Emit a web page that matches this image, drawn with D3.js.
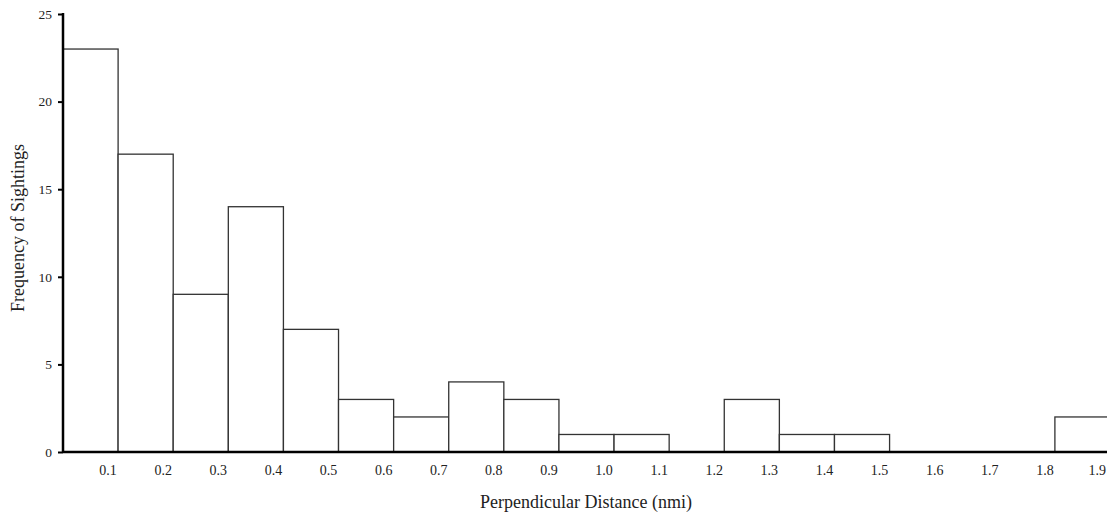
<!DOCTYPE html>
<html>
<head>
<meta charset="utf-8">
<script src="https://cdn.jsdelivr.net/npm/d3@7"></script>
<style>
  body { margin: 0; background: #fff; }
  text { font-family: "Liberation Serif", "DejaVu Serif", serif; fill: #222; }
</style>
</head>
<body>
<svg id="chart"></svg>
<script>
// histogram bins (nmi) and counts
var binEdges = [0, 0.1, 0.2, 0.3, 0.4, 0.5, 0.6, 0.7, 0.8, 0.9, 1.0,
                1.1, 1.2, 1.3, 1.4, 1.5, 1.6, 1.7, 1.8, 1.9];
var counts = [23, 17, 9, 14, 7, 3, 2, 4, 3, 1, 1, 0, 3, 1, 1, 0, 0, 0, 2];
var xTickLabels = ["0.1", "0.2", "0.3", "0.4", "0.5", "0.6", "0.7", "0.8", "0.9", "1.0",
                   "1.1", "1.2", "1.3", "1.4", "1.5", "1.6", "1.7", "1.8", "1.9"];
var yTicks = [0, 5, 10, 15, 20, 25];

var width = 1107;
var height = 515;

var svg = d3.select("#chart")
    .attr("width", width)
    .attr("height", height);

var x = d3.scaleLinear().domain([0, 1.9]).range([63, 1110]);
var y = d3.scaleLinear().domain([0, 25]).range([452, 14]);

var bins = counts.map(function(c, i) {
    return { x0: binEdges[i], x1: binEdges[i] + 0.1, n: c };
});

// bars
svg.append("g")
    .selectAll("rect")
    .data(bins.filter(function(d) { return d.n > 0; }))
    .enter().append("rect")
    .attr("x", function(d) { return x(d.x0); })
    .attr("y", function(d) { return y(d.n); })
    .attr("width", function(d) { return x(d.x1) - x(d.x0); })
    .attr("height", function(d) { return y(0) - y(d.n); })
    .attr("fill", "#fff")
    .attr("stroke", "#333")
    .attr("stroke-width", 1.3);

// y axis
var yAxis = d3.axisLeft(y).tickValues(yTicks).tickSize(5).tickPadding(6);
var gy = svg.append("g")
    .attr("transform", "translate(" + x(0) + ",0)")
    .call(yAxis);
gy.select(".domain").remove();
gy.selectAll(".tick line").attr("stroke", "#000").attr("stroke-width", 2);
gy.selectAll(".tick text")
    .style("font-family", "Liberation Serif, serif")
    .style("font-size", "13.5px")
    .attr("fill", "#222");
svg.append("line")
    .attr("x1", x(0)).attr("x2", x(0))
    .attr("y1", y(25) - 1).attr("y2", y(0) + 1)
    .attr("stroke", "#000").attr("stroke-width", 2.5);

// x axis
svg.append("line")
    .attr("x1", x(0)).attr("x2", width)
    .attr("y1", y(0)).attr("y2", y(0))
    .attr("stroke", "#000").attr("stroke-width", 2.5);

// tick labels sit a little left of the bin edges; keep the last one inside
svg.append("g")
    .selectAll("text")
    .data(xTickLabels)
    .enter().append("text")
    .attr("y", 475)
    .attr("text-anchor", "middle")
    .style("font-size", "14px")
    .text(function(d) { return d; })
    .attr("x", function(d) {
        var half = this.getComputedTextLength() / 2;
        return Math.min(x(+d) - 10, width - half - 1);
    });

// axis titles
svg.append("text")
    .attr("x", 586)
    .attr("y", 508)
    .attr("text-anchor", "middle")
    .style("font-size", "18px")
    .text("Perpendicular Distance (nmi)");

svg.append("text")
    .attr("transform", "translate(24,228) rotate(-90)")
    .attr("text-anchor", "middle")
    .style("font-size", "18px")
    .text("Frequency of Sightings");
</script>
</body>
</html>
